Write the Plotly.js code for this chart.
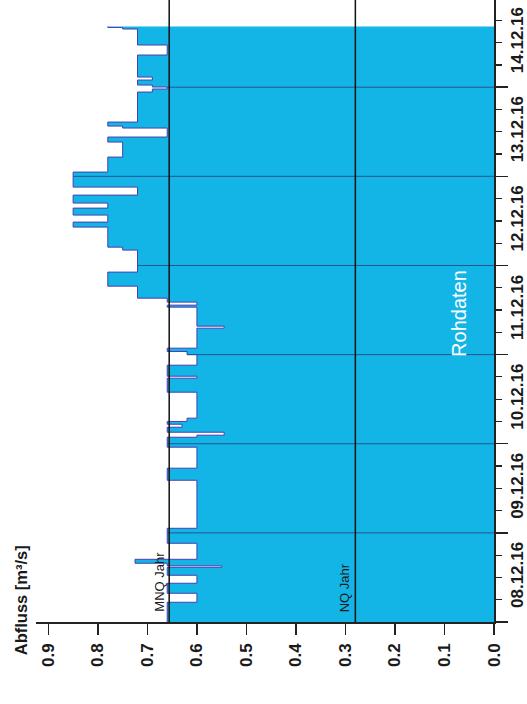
<!DOCTYPE html>
<html><head><meta charset="utf-8">
<script src="https://cdn.plot.ly/plotly-3.0.1.min.js"></script>
<style>html,body{margin:0;padding:0;background:#fff}#chart{width:527px;height:704px}</style>
</head><body><div id="chart"></div>
<script>
// Abfluss raw data (step series): start time of each level and its value [m³/s]
const times = [
 '2016-12-08 00:00','2016-12-08 05:19','2016-12-08 07:44','2016-12-08 10:26','2016-12-08 12:35',
 '2016-12-08 14:44','2016-12-08 15:08','2016-12-08 15:49','2016-12-08 16:53','2016-12-08 21:12',
 '2016-12-09 01:14','2016-12-09 14:10','2016-12-09 17:25','2016-12-09 23:04',
 '2016-12-10 01:45','2016-12-10 02:18','2016-12-10 03:06','2016-12-10 04:27','2016-12-10 05:15',
 '2016-12-10 06:00','2016-12-10 06:53','2016-12-10 13:53','2016-12-10 17:39','2016-12-10 18:11','2016-12-10 21:09',
 '2016-12-11 00:00','2016-12-11 00:50','2016-12-11 01:44','2016-12-11 07:07','2016-12-11 07:40',
 '2016-12-11 12:47','2016-12-11 13:19','2016-12-11 14:08','2016-12-11 15:12','2016-12-11 18:26','2016-12-11 22:13',
 '2016-12-12 04:08','2016-12-12 04:56','2016-12-12 10:20','2016-12-12 11:41','2016-12-12 13:34',
 '2016-12-12 15:27','2016-12-12 16:48','2016-12-12 18:57','2016-12-12 21:06',
 '2016-12-13 01:09','2016-12-13 05:11','2016-12-13 09:14','2016-12-13 10:35','2016-12-13 13:00',
 '2016-12-13 13:32','2016-12-13 14:37','2016-12-13 22:42','2016-12-13 23:31',
 '2016-12-14 00:03','2016-12-14 00:35','2016-12-14 01:56','2016-12-14 02:44','2016-12-14 08:40',
 '2016-12-14 11:22','2016-12-14 15:40','2016-12-14 16:05','2016-12-14 16:21'
];
const abfluss = [
 0.66,0.60,0.66,0.60,0.66,
 0.55,0.66,0.725,0.60,0.66,
 0.60,0.66,0.60,0.66,
 0.60,0.545,0.66,0.63,0.66,
 0.62,0.60,0.66,0.60,0.66,0.60,
 0.62,0.66,0.60,0.545,0.60,
 0.66,0.60,0.66,0.72,0.78,0.72,
 0.75,0.78,0.85,0.78,0.85,
 0.78,0.85,0.72,0.85,
 0.78,0.75,0.78,0.66,0.75,
 0.78,0.72,0.69,0.66,
 0.69,0.72,0.69,0.72,0.66,
 0.72,0.75,0.78,0.78
];
const MNQ_Jahr = 0.656;
const NQ_Jahr = 0.28;
const refLabels = ['MNQ Jahr', 'NQ Jahr'];
const valueTicks = [0.0,0.1,0.2,0.3,0.4,0.5,0.6,0.7,0.8,0.9];
const valueTickLabels = ['0.0','0.1','0.2','0.3','0.4','0.5','0.6','0.7','0.8','0.9'];
const dayBoundaries = ['2016-12-09 00:00','2016-12-10 00:00','2016-12-11 00:00','2016-12-12 00:00','2016-12-13 00:00','2016-12-14 00:00'];
const timeRange = ['2016-12-08 00:00','2016-12-14 23:29'];
const axisTitle = 'Abfluss [m³/s]';
const stampText = 'Rohdaten';

// value of the step series at a given time
function valueAt(t){
  let v = abfluss[0];
  for (let i=0;i<times.length;i++){ if (times[i] <= t) v = abfluss[i]; }
  return v;
}
const gx = [], gy = [];
dayBoundaries.forEach(b => { gx.push(0, valueAt(b), null); gy.push(b, b, null); });

const FONT = 'Liberation Sans, Arial, Helvetica, sans-serif';

const traces = [
  { x: abfluss, y: times, type:'scatter', mode:'lines', line:{shape:'vh', color:'#4b3fb0', width:1},
    fill:'tozerox', fillcolor:'#12b5e6', hoverinfo:'skip' },
  { x: gx, y: gy, type:'scatter', mode:'lines', line:{color:'#27548f', width:1}, hoverinfo:'skip' }
];

const layout = {
  width:527, height:704,
  margin:{l:36, r:33, t:0, b:82, pad:0},
  paper_bgcolor:'#ffffff', plot_bgcolor:'#ffffff',
  showlegend:false,
  font:{family:FONT, color:'#1a1a1a'},
  xaxis:{
    range:[0.925, 0], autorange:false,
    tickmode:'array', tickvals:valueTicks, ticktext:valueTickLabels,
    ticks:'outside', ticklen:11, tickwidth:1.5, tickcolor:'#222',
    showline:true, linecolor:'#222', linewidth:1.5,
    showgrid:false, zeroline:false, tickangle:-90, ticklabelstandoff:2,
    tickfont:{size:17, weight:'bold', color:'#1a1a1a'}
  },
  yaxis:{
    type:'date', side:'right', range:timeRange, autorange:false,
    tick0:'2016-12-08', dtick:86400000, tickformat:'%d.%m.%y', ticklabelmode:'period',
    ticks:'outside', ticklen:12, tickwidth:1.5, tickcolor:'#222',
    showline:true, linecolor:'#222', linewidth:1.5,
    showgrid:false, zeroline:false, tickangle:-90, ticklabelstandoff:-5,
    tickfont:{size:17, weight:'bold', color:'#1a1a1a'},
    minor:{dtick:21600000, ticks:'outside', ticklen:6, tickwidth:1.2, tickcolor:'#222', showgrid:false}
  },
  shapes:[
    {type:'line', xref:'x', yref:'paper', x0:MNQ_Jahr, x1:MNQ_Jahr, y0:0, y1:1, line:{color:'#111', width:1.5}},
    {type:'line', xref:'x', yref:'paper', x0:NQ_Jahr, x1:NQ_Jahr, y0:0, y1:1, line:{color:'#111', width:1.5}}
  ],
  annotations:[
    {text:refLabels[0], xref:'x', yref:'paper', x:MNQ_Jahr, y:0, xanchor:'right', yanchor:'bottom',
     xshift:-1, yshift:8, textangle:-90, showarrow:false, font:{size:13, color:'#1a1a1a', family:FONT}},
    {text:refLabels[1], xref:'x', yref:'paper', x:NQ_Jahr, y:0, xanchor:'right', yanchor:'bottom',
     xshift:-1, yshift:8, textangle:-90, showarrow:false, font:{size:13, color:'#1a1a1a', family:FONT}},
    {text:stampText, xref:'paper', yref:'paper', x:0.923, y:0.4965, xanchor:'center', yanchor:'middle',
     textangle:-90, showarrow:false, font:{size:20, color:'#ffffff', family:FONT}},
    {text:axisTitle, xref:'paper', yref:'paper', x:-0.0328, y:-0.0053, xanchor:'center', yanchor:'middle',
     yshift:25, textangle:-90, showarrow:false, font:{size:16.5, weight:'bold', color:'#1a1a1a', family:FONT}}
  ]
};

Plotly.newPlot('chart', traces, layout, {staticPlot:true, displayModeBar:false});
</script>
</body></html>
